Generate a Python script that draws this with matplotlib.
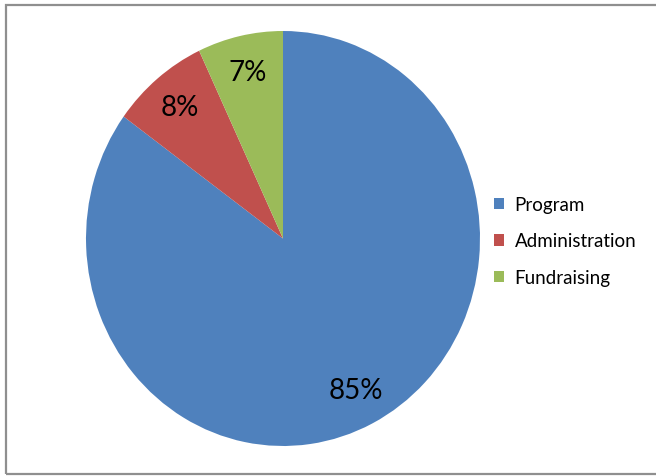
import matplotlib
matplotlib.use("Agg")
import matplotlib.pyplot as plt
from matplotlib.patches import Rectangle

categories = ["Program", "Administration", "Fundraising"]
values = [85, 8, 7]
colors = ["#4F81BD", "#C0504D", "#9BBB59"]

plt.rcParams['font.family'] = ['Lato', 'DejaVu Sans']

W, H = 656, 477
fig = plt.figure(figsize=(W / 100, H / 100), dpi=100)

# background axes in pixel coordinates (y up)
bg = fig.add_axes([0, 0, 1, 1])
bg.set_xlim(0, W)
bg.set_ylim(0, H)
bg.axis('off')
bg.add_patch(Rectangle((6, 2), 700, 469, fill=False, edgecolor='#8f8f8f', linewidth=1.6))

# pie axes (slightly elliptical, as in the reference)
cx, cy, rx, ry = 283, 239.5, 197, 207.5
pax = fig.add_axes([(cx - rx) / W, (H - cy - ry) / H, 2 * rx / W, 2 * ry / H])
wedges, texts, autotexts = pax.pie(
    values, colors=colors, startangle=90, counterclock=False,
    radius=1, autopct='%d%%', pctdistance=0.82,
    textprops=dict(fontsize=20, color='black'))
pax.set_aspect('auto')
pax.set_xlim(-1, 1)
pax.set_ylim(-1, 1)
pax.axis('off')

leg = bg.legend(wedges, categories, loc='center left', bbox_to_anchor=(477 / W, 1 - 242 / H),
                bbox_transform=fig.transFigure, frameon=False, fontsize=13.5,
                handlelength=0.55, handleheight=0.55, handletextpad=0.55, labelspacing=1.05)

fig.savefig("out.png", dpi=100)
